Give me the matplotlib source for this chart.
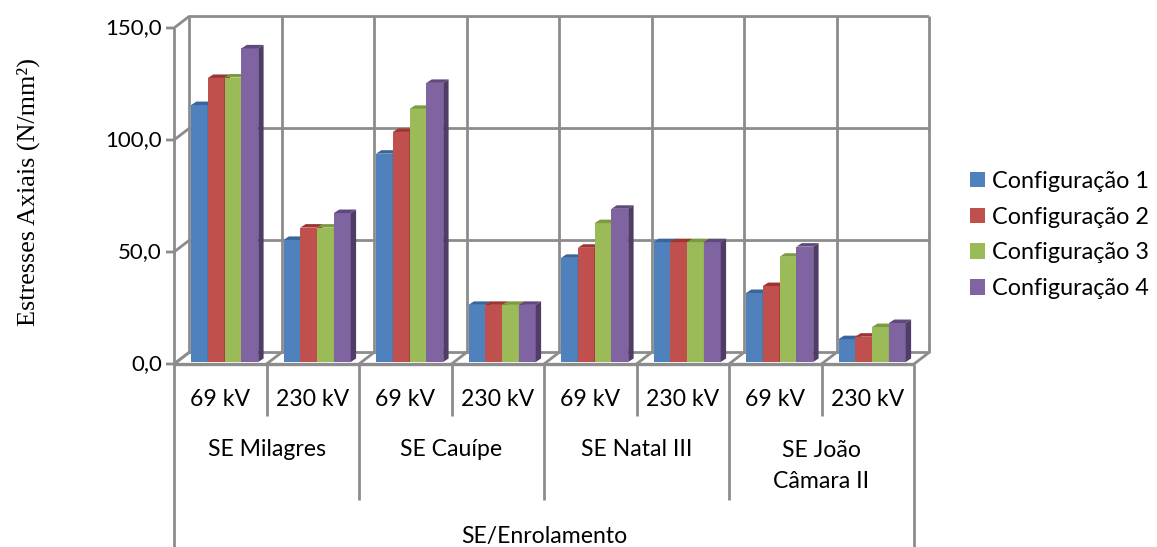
import matplotlib
matplotlib.use("Agg")
import matplotlib.pyplot as plt
from matplotlib.patches import Patch, Polygon

plt.rcParams['font.family'] = ['Lato', 'DejaVu Sans']

# Data
windings = ["69 kV", "230 kV"] * 4
substations = ["SE Milagres", "SE Cauípe", "SE Natal III", "SE João\nCâmara II"]
axis_title = "SE/Enrolamento"
series_names = ["Configuração 1", "Configuração 2", "Configuração 3", "Configuração 4"]
config1 = [114.7, 54.5, 93.0, 25.5, 46.5, 53.5, 30.8, 10.2]
config2 = [126.8, 60.0, 102.7, 25.5, 51.0, 53.5, 33.9, 11.3]
config3 = [127.0, 60.0, 113.0, 25.5, 62.0, 53.5, 47.0, 15.6]
config4 = [140.0, 66.5, 124.6, 25.5, 68.4, 53.5, 51.5, 17.4]
yticks = [0, 50, 100, 150]
ytick_labels = ["0,0", "50,0", "100,0", "150,0"]

front_colors = ["#4F81BD", "#C0504D", "#9BBB59", "#8064A2"]
top_colors = ["#3A659B", "#9E3532", "#7C9A40", "#604A7B"]
side_colors = ["#2F5078", "#7A2B28", "#5F7731", "#4F3D68"]
grid_color = "#8C8C8C"

# Pixel scale of the picture: one category and one y unit
PX_X = 92.5
PX_Y = 2.24
X0, Y0 = 174, 364
WIDTH, HEIGHT = 1157, 547


def px(x):
    return x / PX_X


def py(y):
    return y / PX_Y


def line(ax, xs, ys, lw=2.0, z=1):
    ax.plot(xs, ys, color=grid_color, lw=lw, zorder=z, solid_capstyle='butt')


fig = plt.figure(figsize=(WIDTH / 100, HEIGHT / 100), dpi=100)
ax = fig.add_axes([0, 0, 1, 1])
ax.set_xlim(px(-X0), px(WIDTH - X0))
ax.set_ylim(py(Y0 - HEIGHT), py(Y0))
ax.axis('off')

n = len(windings)
depth_x, depth_y = px(15), py(11.5)
floor_y = py(2)
y_bottom = py(Y0 - HEIGHT)

# Back walls and floor
for t in yticks:
    line(ax, [px(-8), 0, depth_x, n + depth_x], [t, t, t + depth_y, t + depth_y])
for i in range(n + 1):
    line(ax, [i + depth_x, i + depth_x], [depth_y, 150 + depth_y])
    line(ax, [i, i + depth_x], [0, depth_y])
line(ax, [0, 0], [0, 150])

# Bars, front face from the axes scale, top and side as parallelograms
all_series = [config1, config2, config3, config4]
bar_w = px(16.8)
start = px(17)
dx, dy = px(5.4), py(3.5)
for j, values in enumerate(all_series):
    for i, v in enumerate(values):
        left = i + start + j * bar_w
        ax.bar(left, v, bar_w, bottom=floor_y, align='edge',
               color=front_colors[j], lw=0, zorder=3 + j)
        top = v + floor_y
        ax.add_patch(Polygon([(left, top), (left + bar_w, top),
                              (left + bar_w + dx, top + dy), (left + dx, top + dy)],
                             closed=True, color=top_colors[j], lw=0, zorder=3 + j))
        ax.add_patch(Polygon([(left + bar_w, floor_y), (left + bar_w + dx, floor_y + dy),
                              (left + bar_w + dx, top + dy), (left + bar_w, top)],
                             closed=True, color=side_colors[j], lw=0, zorder=3 + j))

# Front axis and multi level category axis
line(ax, [0, n], [0, 0], lw=2.4, z=8)
line(ax, [0, 0], [y_bottom, 0], z=8)
line(ax, [n, n], [y_bottom, 0], z=8)
for i in range(1, n):
    low = py(-136) if i % 2 == 0 else py(-52)
    line(ax, [i, i], [low, 0], z=8)

text_kw = dict(ha='center', va='center', fontsize=16.6, color='black')
for i, w in enumerate(windings):
    ax.text(i + 0.5, py(-36), w, **text_kw)
for i, s in enumerate(substations):
    ax.text(2 * i + 1, py(-86) if "\n" not in s else py(-102), s, linespacing=1.6, **text_kw)
ax.text(n / 2, py(-172), axis_title, **text_kw)

for t, lab in zip(yticks, ytick_labels):
    ax.text(px(-12), t, lab, ha='right', va='center', fontsize=16)

ax.text(px(-174 + 28), 77, "Estresses Axiais (N/mm²)", rotation=90, ha='center', va='center',
        fontsize=18.8, family='Liberation Serif')

# Legend
handles = [Patch(facecolor=c, lw=0) for c in front_colors]
ax.legend(handles, series_names, loc='center left', bbox_to_anchor=(970 / WIDTH, 1 - 235 / HEIGHT),
          frameon=False, fontsize=16.8, handlelength=0.64, handleheight=0.64,
          handletextpad=0.3, labelspacing=0.63, borderaxespad=0, borderpad=0)

fig.savefig("out.png", dpi=100)
